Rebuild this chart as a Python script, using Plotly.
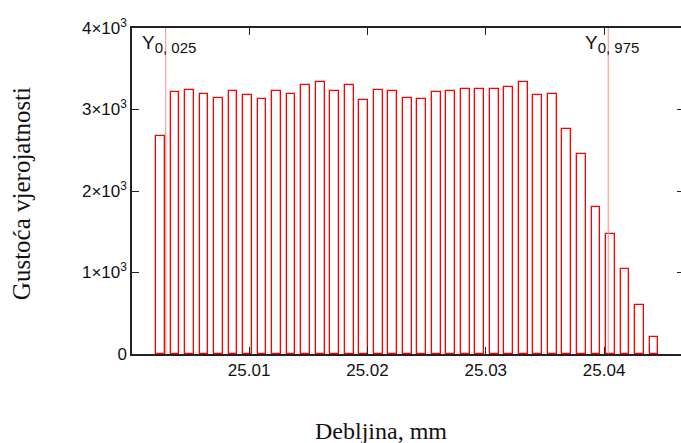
import numpy as np
import plotly.graph_objects as go

# Histogram data
bin_start = 25.00251      # centre of first bin, mm
bin_width = 0.0012265     # bin width, mm
density = [2680, 3210, 3245, 3194, 3145, 3231, 3182, 3133, 3231, 3194,
           3305, 3341, 3231, 3305, 3117, 3243, 3231, 3145, 3129, 3210,
           3231, 3256, 3256, 3256, 3272, 3341, 3178, 3190, 2757, 2450,
           1807, 1468, 1047, 597, 213]
bin_centers = bin_start + bin_width * np.arange(len(density))

# Quantiles
q_values = [25.00295, 25.04035]
q_main = ["Y", "Y"]
q_subs = ["0, 025", "0, 975"]

x_tickvals = [25.01, 25.02, 25.03, 25.04]
x_ticktext = ["25.01", "25.02", "25.03", "25.04"]
y_tickvals = [0, 1000, 2000, 3000, 4000]
y_ticktext = ["0", "1×10<sup>3</sup>", "2×10<sup>3</sup>", "3×10<sup>3</sup>", "4×10<sup>3</sup>"]

SANS = "Liberation Sans, Arial, sans-serif"
SERIF = "Liberation Serif, Times New Roman, serif"

fig = go.Figure()
fig.add_trace(go.Bar(
    x=bin_centers, y=density, width=bin_width * 0.60,
    marker=dict(color="white", line=dict(color="#ff0000", width=1.3)),
    showlegend=False, hoverinfo="x+y",
))
fig.add_trace(go.Scatter(x=[], y=[], yaxis="y2", showlegend=False))

for qv in q_values:
    fig.add_shape(type="line", xref="x", yref="paper", x0=qv, x1=qv, y0=0, y1=1,
                  line=dict(color="#ff8888", width=1), layer="above")

for xp, m, s in zip([0.0146, 0.821], q_main, q_subs):
    fig.add_annotation(text=f"{m}<sub><span style='font-size:15px'>{s}</span></sub>",
                       xref="paper", yref="paper", x=xp, y=0.994,
                       xanchor="left", yanchor="top", showarrow=False,
                       font=dict(family=SANS, size=19, color="#111"))

fig.add_annotation(text="Gustoća vjerojatnosti", xref="paper", yref="paper",
                   x=-0.200, y=0.491, textangle=-90, showarrow=False,
                   xanchor="center", yanchor="middle",
                   font=dict(family=SERIF, size=25, color="#111"))
fig.add_annotation(text="Debljina, mm", xref="paper", yref="paper",
                   x=0.4536, y=-0.236, showarrow=False,
                   xanchor="center", yanchor="middle",
                   font=dict(family=SERIF, size=24, color="#111"))

fig.update_layout(
    width=681, height=443, autosize=False,
    margin=dict(l=132, r=0, t=28, b=89),
    paper_bgcolor="white", plot_bgcolor="white",
    bargap=0,
    xaxis=dict(range=[25.0001, 25.0465], tickvals=x_tickvals, ticktext=x_ticktext,
               ticks="inside", ticklen=7, tickwidth=1.2, tickcolor="#222",
               showline=True, linecolor="#222", linewidth=1.5, mirror="ticks",
               showgrid=False, zeroline=False,
               tickfont=dict(family=SANS, size=17, color="#111")),
    yaxis=dict(range=[0, 4000], tickvals=y_tickvals, ticktext=y_ticktext,
               ticks="inside", ticklen=7, tickwidth=1.2, tickcolor="#222",
               showline=True, linecolor="#222", linewidth=1.5, mirror=False,
               showgrid=False, zeroline=False,
               tickfont=dict(family=SANS, size=17, color="#111")),
    yaxis2=dict(range=[0, 4000], overlaying="y", side="right", anchor="x",
                tickvals=[1000, 2000, 3000], ticks="inside", ticklen=4,
                tickwidth=1.2, tickcolor="#222", showline=False,
                showticklabels=False, showgrid=False, zeroline=False),
)

fig.write_html("out.html", config={"displayModeBar": False},
               post_script="document.body.style.margin='0';")
